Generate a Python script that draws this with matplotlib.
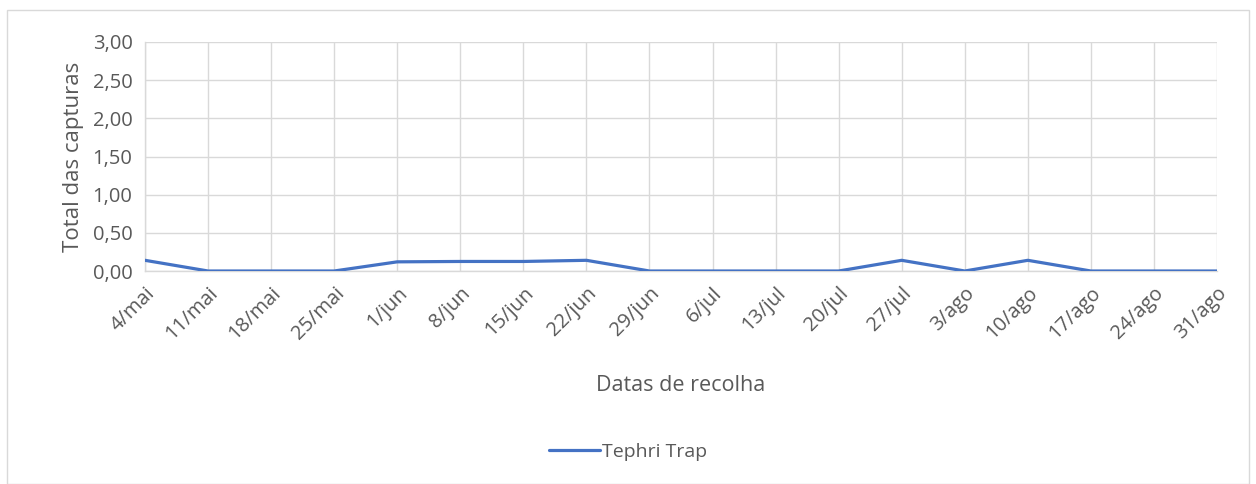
import matplotlib.pyplot as plt
from matplotlib.patches import Rectangle

datas = ['4/mai', '11/mai', '18/mai', '25/mai', '1/jun', '8/jun', '15/jun', '22/jun',
         '29/jun', '6/jul', '13/jul', '20/jul', '27/jul', '3/ago', '10/ago', '17/ago',
         '24/ago', '31/ago']
tephri_trap = [0.14, 0.0, 0.0, 0.0, 0.12, 0.125, 0.125, 0.14,
               0.0, 0.0, 0.0, 0.0, 0.14, 0.0, 0.14, 0.0, 0.0, 0.0]
y_ticks = [0, 0.5, 1.0, 1.5, 2.0, 2.5, 3.0]

plt.rcParams['font.family'] = ['Open Sans', 'DejaVu Sans']
txt = '#595959'
grid = '#d9d9d9'

fig = plt.figure(figsize=(12.56, 4.84), dpi=100)
fig.patches.append(Rectangle((7 / 1256, 0), 1242 / 1256, 474 / 484, transform=fig.transFigure,
                             fill=False, edgecolor=grid, linewidth=1))

ax = fig.add_axes((145 / 1256, 1 - 271 / 484, 1072 / 1256, 229 / 484))
x = list(range(len(datas)))
ax.plot(x, tephri_trap, color='#4472C4', linewidth=2.3, label='Tephri Trap',
        solid_capstyle='round', zorder=3)

ax.set_xlim(0, len(datas) - 1)
ax.set_ylim(0, 3)
ax.set_xticks(x)
ax.set_xticklabels(datas, rotation=45, ha='right', rotation_mode='anchor')
ax.set_yticks(y_ticks)
ax.set_yticklabels([f'{v:.2f}'.replace('.', ',') for v in y_ticks])
ax.tick_params(length=0, labelsize=14.5, labelcolor=txt)
ax.tick_params(axis='x', pad=9)
ax.tick_params(axis='y', pad=9)
ax.grid(True, color=grid, linewidth=1)
ax.set_axisbelow(True)
for side in ['top', 'right']:
    ax.spines[side].set_visible(False)
for side in ['left', 'bottom']:
    ax.spines[side].set_color(grid)
    ax.spines[side].set_linewidth(1)

ax.set_ylabel('Total das capturas', fontsize=16, color=txt, labelpad=6)
ax.set_xlabel('Datas de recolha', fontsize=15.5, color=txt, labelpad=22)

fig.legend(loc='center', bbox_to_anchor=(0.5, 1 - 452 / 484), frameon=False,
           fontsize=14, labelcolor=txt, handlelength=2.6, handletextpad=0.1)

fig.savefig('out.png', dpi=100)
